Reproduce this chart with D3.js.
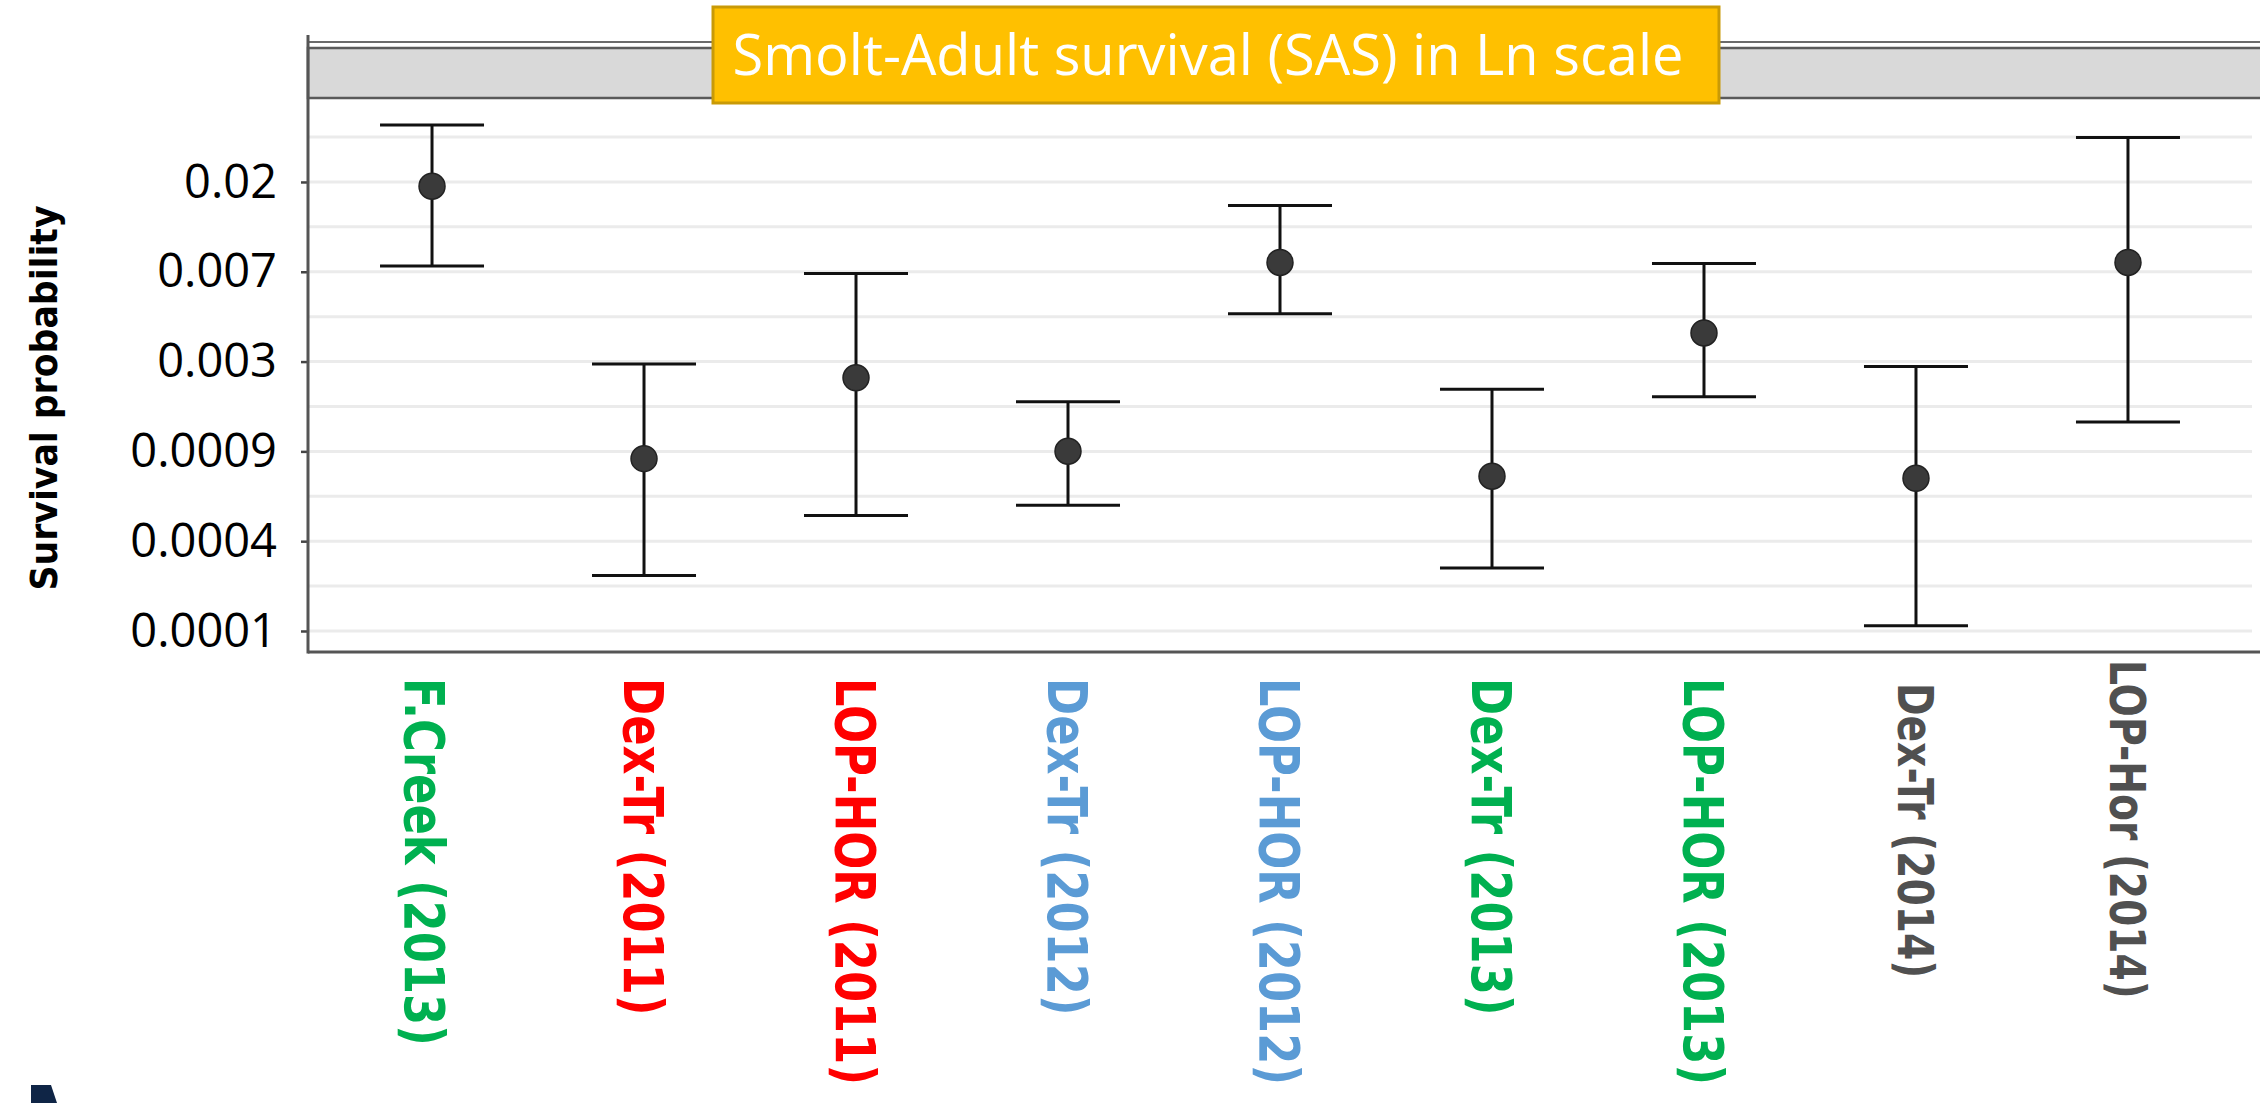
<!DOCTYPE html>
<html>
<head>
<meta charset="utf-8">
<script src="https://cdn.jsdelivr.net/npm/d3@7"></script>
<style>
  body { margin: 0; background: #fff; }
</style>
</head>
<body>
<div id="chart-area"></div>
<script>
const width = 2260;
const height = 1103;

// groups along the x axis
const groups = ["F.Creek (2013)", "Dex-Tr (2011)", "LOP-HOR (2011)", "Dex-Tr (2012)", "LOP-HOR (2012)",
                "Dex-Tr (2013)", "LOP-HOR (2013)", "Dex-Tr (2014)", "LOP-Hor (2014)"];
const years = [2013, 2011, 2011, 2012, 2012, 2013, 2013, 2014, 2014];

// survival probability: estimate and 95% interval (read off the ln scale)
const estimate = [0.01748, 0.000841, 0.002068, 0.000914, 0.007476, 0.000692, 0.00341, 0.000676, 0.007476];
const lower    = [0.00718, 0.000229, 0.000447, 0.000500, 0.004224, 0.000249, 0.001677, 0.000131, 0.001265];
const upper    = [0.03456, 0.002415, 0.006611, 0.001585, 0.014109, 0.001822, 0.007387, 0.002348, 0.030077];

// y ticks sit on whole ln units, labels as printed
const tickLn = [-4, -5, -6, -7, -8, -9];
const tickLabels = ["0.02", "0.007", "0.003", "0.0009", "0.0004", "0.0001"];
const gridLn = [-3.5, -4, -4.5, -5, -5.5, -6, -6.5, -7, -7.5, -8, -8.5, -9];

const yearColor = {2011: "#ff0000", 2012: "#5b9bd5", 2013: "#00b050", 2014: "#505050"};

const plotLeft = 308, plotRight = 2252, plotTop = 98, plotBottom = 652;

const svg = d3.select("#chart-area")
    .append("svg")
    .attr("width", width)
    .attr("height", height);

const x = d3.scalePoint()
    .domain(groups)
    .range([plotLeft, plotRight])
    .padding(0.585);

const y = d3.scaleLog()
    .base(Math.E)
    .domain([Math.exp(-9.234), Math.exp(-3.065)])
    .range([plotBottom, plotTop]);

const data = groups.map((g, i) => ({
    group: g, year: years[i], est: estimate[i], lo: lower[i], hi: upper[i]
}));

// grid
svg.append("g")
    .selectAll("line")
    .data(gridLn)
    .join("line")
    .attr("x1", plotLeft)
    .attr("x2", plotRight)
    .attr("y1", d => y(Math.exp(d)))
    .attr("y2", d => y(Math.exp(d)))
    .attr("stroke", "#ebebeb")
    .attr("stroke-width", 3);

// strip on top of the panel
svg.append("line")
    .attr("x1", plotLeft).attr("x2", width)
    .attr("y1", 42).attr("y2", 42)
    .attr("stroke", "#6b6b6b").attr("stroke-width", 2);
svg.append("rect")
    .attr("x", plotLeft)
    .attr("y", 48)
    .attr("width", width - plotLeft + 4)
    .attr("height", plotTop - 48)
    .attr("fill", "#d9d9d9")
    .attr("stroke", "#5a5a5a")
    .attr("stroke-width", 2.5);

// y axis
const yAxis = d3.axisLeft(y)
    .tickValues(tickLn.map(d => Math.exp(d)))
    .tickFormat((d, i) => tickLabels[i])
    .tickSize(7)
    .tickPadding(24);

const gy = svg.append("g")
    .attr("transform", `translate(${plotLeft},0)`)
    .call(yAxis);
gy.select(".domain").remove();
gy.selectAll(".tick line").attr("stroke", "#444").attr("stroke-width", 2.5);
gy.selectAll(".tick text")
    .attr("font-family", "'Open Sans', sans-serif")
    .attr("font-size", 47)
    .attr("fill", "#000");

svg.append("line")
    .attr("x1", plotLeft).attr("x2", plotLeft)
    .attr("y1", 35).attr("y2", plotBottom + 1.5)
    .attr("stroke", "#555").attr("stroke-width", 3);
svg.append("line")
    .attr("x1", plotLeft).attr("x2", width)
    .attr("y1", plotBottom).attr("y2", plotBottom)
    .attr("stroke", "#555").attr("stroke-width", 3);

svg.append("text")
    .attr("transform", "translate(57,398) rotate(-90)")
    .attr("text-anchor", "middle")
    .attr("font-family", "'DejaVu Sans', sans-serif")
    .attr("font-weight", "bold")
    .attr("font-size", 38)
    .attr("textLength", 385)
    .attr("lengthAdjust", "spacingAndGlyphs")
    .text("Survival probability");

// error bars
const bars = svg.append("g")
    .selectAll("g")
    .data(data)
    .join("g")
    .attr("transform", d => `translate(${x(d.group)},0)`);

bars.append("line")
    .attr("y1", d => y(d.lo))
    .attr("y2", d => y(d.hi))
    .attr("stroke", "#111").attr("stroke-width", 3);
bars.selectAll(".cap")
    .data(d => [d.lo, d.hi])
    .join("line")
    .attr("class", "cap")
    .attr("x1", -52).attr("x2", 52)
    .attr("y1", d => y(d)).attr("y2", d => y(d))
    .attr("stroke", "#111").attr("stroke-width", 3);
bars.append("circle")
    .attr("cy", d => y(d.est))
    .attr("r", 13)
    .attr("fill", "#3a3a3a")
    .attr("stroke", "#222")
    .attr("stroke-width", 1.5);

// x labels, rotated to read downwards
svg.append("g")
    .selectAll("text")
    .data(data)
    .join("text")
    .attr("transform", (d, i) => {
        const gray = d.year === 2014;
        const y0 = i === groups.length - 1 ? 660 : gray ? 683 : 678;
        const dx = i === 0 ? -7 : 0;
        return `translate(${x(d.group) + dx},${y0}) rotate(90) scale(0.8,1)`;
    })
    .attr("dy", "0.36em")
    .attr("font-family", "'DejaVu Sans', sans-serif")
    .attr("font-weight", "bold")
    .attr("font-size", d => d.year === 2014 ? 49 : 56)
    .attr("fill", d => yearColor[d.year])
    .text(d => d.group);

// title box
svg.append("rect")
    .attr("x", 713).attr("y", 7)
    .attr("width", 1006).attr("height", 96)
    .attr("fill", "#ffc000")
    .attr("stroke", "#c99a06")
    .attr("stroke-width", 3);
svg.append("text")
    .attr("x", 1208).attr("y", 75)
    .attr("text-anchor", "middle")
    .attr("font-family", "'Open Sans', sans-serif")
    .attr("font-size", 56)
    .attr("fill", "#fff")
    .attr("textLength", 951)
    .attr("lengthAdjust", "spacingAndGlyphs")
    .text("Smolt-Adult survival (SAS) in Ln scale");

// corner of a logo at the bottom left
svg.append("path")
    .attr("d", "M31,1085 L51,1085 L57,1103 L31,1103 Z")
    .attr("fill", "#0f2546");
</script>
</body>
</html>
